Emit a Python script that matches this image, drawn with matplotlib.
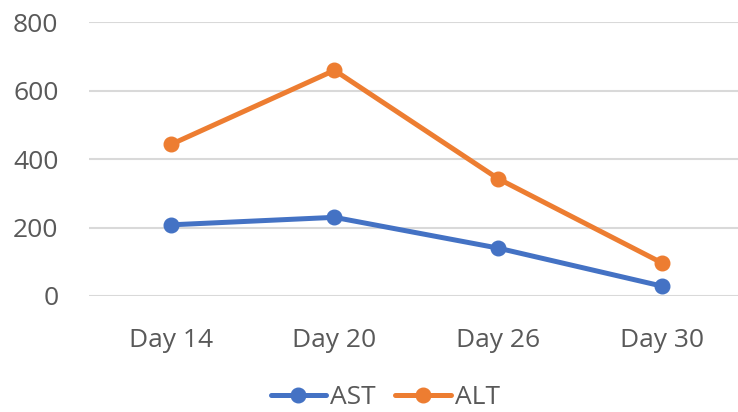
import matplotlib.pyplot as plt

days = ["Day 14", "Day 20", "Day 26", "Day 30"]
ast = [208, 230, 140, 29]
alt = [443, 660, 343, 97]

plt.rcParams["font.family"] = ["Open Sans", "DejaVu Sans"]

fig = plt.figure(figsize=(7.38, 4.12), dpi=100)
ax = fig.add_axes([0.1206, 0.2816, 0.887, 0.664])

x = range(len(days))
ax.plot(x, ast, color="#4472C4", lw=3.6, marker="o", ms=10.5, label="AST",
        solid_capstyle="round")
ax.plot(x, alt, color="#ED7D31", lw=3.6, marker="o", ms=10.5, label="ALT",
        solid_capstyle="round")

ax.set_xlim(-0.5, 3.5)
ax.set_ylim(0, 800)
ax.set_yticks([0, 200, 400, 600, 800])
ax.set_xticks(list(x))
ax.set_xticklabels(days)
ax.yaxis.grid(True, color="#D9D9D9", lw=1.5)
ax.set_axisbelow(True)
for s in ax.spines.values():
    s.set_visible(False)
ax.tick_params(axis="y", length=0, pad=22, labelsize=19, labelcolor="#595959")
ax.tick_params(axis="x", length=0, pad=23, labelsize=19, labelcolor="#595959")

leg = fig.legend(loc="center", bbox_to_anchor=(0.522, 0.035), ncol=2,
                 frameon=False, fontsize=19, handlelength=2.1,
                 handletextpad=0.15, columnspacing=0.75,
                 labelcolor="#595959")

fig.savefig("out.png", dpi=100)
